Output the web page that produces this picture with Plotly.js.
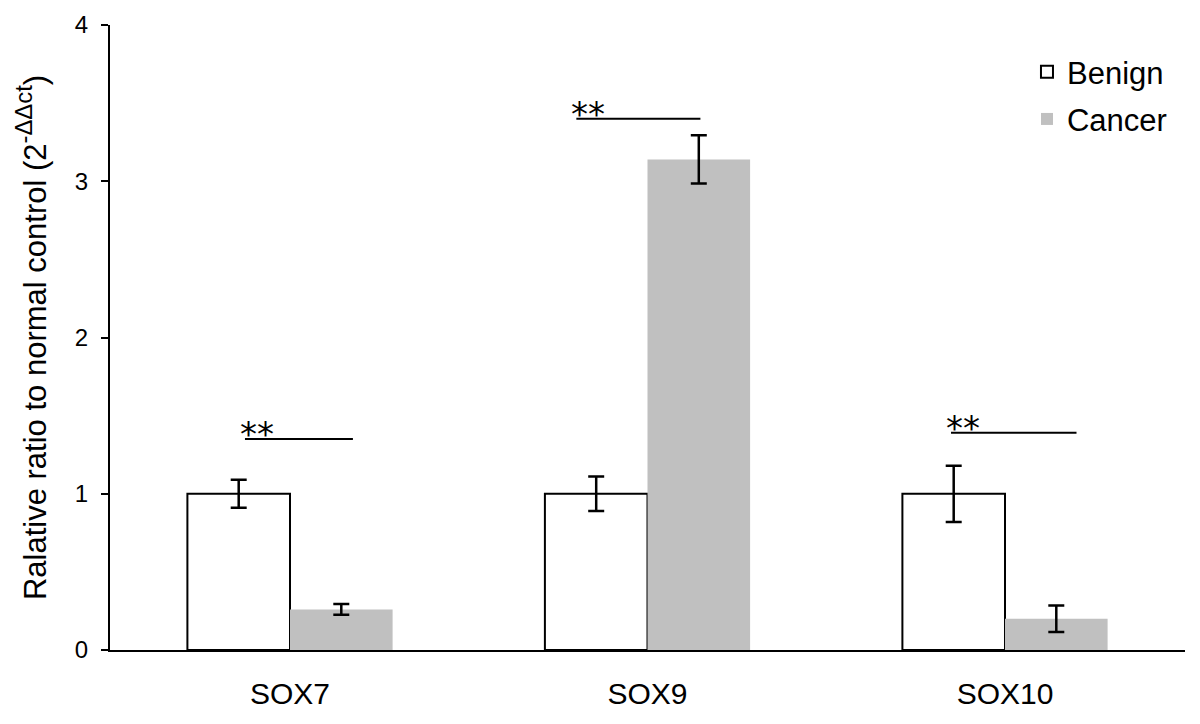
<!DOCTYPE html>
<html>
<head>
<meta charset="utf-8">
<script src="https://cdn.plot.ly/plotly-3.0.1.min.js"></script>
<style>html,body{margin:0;padding:0;background:#fff;}#chart{width:1200px;height:724px;}</style>
</head>
<body>
<div id="chart"></div>
<script>
const categories = ["SOX7", "SOX9", "SOX10"];
const benignValues = [1.0, 1.0, 1.0];
const benignErrors = [0.09, 0.11, 0.18];
const cancerValues = [0.26, 3.14, 0.20];
const cancerErrors = [0.035, 0.155, 0.085];
const sigLevels = [1.35, 3.40, 1.39];
const sigLabels = ["**", "**", "**"];
const yTicks = [0, 1, 2, 3, 4];

const sigX0 = [-0.126, -0.199, -0.151];
const sigX1 = [0.176, 0.148, 0.200];

const FONT = "Liberation Sans, Arial, DejaVu Sans, sans-serif";

const traces = [
  {
    type: "bar", name: "Benign", x: [0, 1, 2], y: benignValues,
    offset: -0.287, width: 0.287, legendgroup: "a",
    marker: {color: "#ffffff", line: {color: "#000000", width: 2}},
    error_y: {type: "data", array: benignErrors, visible: true, color: "#000000", thickness: 2.5, width: 8}
  },
  {
    type: "bar", name: "Cancer", x: [0, 1, 2], y: cancerValues,
    offset: 0, width: 0.287, legendgroup: "b",
    marker: {color: "#c0c0c0", line: {color: "#c0c0c0", width: 0}},
    error_y: {type: "data", array: cancerErrors, visible: true, color: "#000000", thickness: 2.5, width: 8}
  }
];

const shapes = sigLevels.map((lv, i) => ({
  type: "line", xref: "x", yref: "y",
  x0: i + sigX0[i], x1: i + sigX1[i], y0: lv, y1: lv,
  line: {color: "#000000", width: 2}
}));
const annotations = sigLevels.map((lv, i) => ({
  xref: "x", yref: "y", x: i + sigX0[i] - 0.02, y: lv,
  text: sigLabels[i], showarrow: false, xanchor: "left", yanchor: "bottom",
  yshift: -17,
  font: {family: "DejaVu Sans, sans-serif", size: 34, color: "#000000"}
}));

const yTitle = "<span style=\"font-size:31px\">Ralative ratio to normal control (2</span>" +
  "<sup>-ΔΔct</sup><span style=\"font-size:31px\">)</span>";

const layout = {
  width: 1200, height: 724,
  margin: {l: 110, r: 15, t: 25, b: 74},
  paper_bgcolor: "#ffffff", plot_bgcolor: "#ffffff",
  showlegend: true,
  legend: {
    x: 0.853, y: 0.968, xanchor: "left", yanchor: "top",
    font: {family: FONT, size: 31, color: "#000000"},
    itemwidth: 30, traceorder: "grouped", tracegroupgap: 4, bgcolor: "rgba(0,0,0,0)"
  },
  xaxis: {
    range: [-0.5035, 2.5035], tickmode: "array", tickvals: [0, 1, 2], ticktext: categories,
    showline: true, linecolor: "#000000", linewidth: 2, ticks: "", showgrid: false, zeroline: false,
    tickfont: {family: FONT, size: 30, color: "#000000"},
    ticklabelstandoff: 16
  },
  yaxis: {
    range: [0, 4], tickmode: "array", tickvals: yTicks,
    showline: true, linecolor: "#000000", linewidth: 2, ticks: "outside", ticklen: 7, tickwidth: 2, tickcolor: "#000000",
    showgrid: false, zeroline: false,
    tickfont: {family: FONT, size: 24, color: "#000000"},
    ticklabelstandoff: 8,
    title: {text: yTitle, standoff: 18,
      font: {family: FONT, size: 34, color: "#000000"}}
  },
  shapes: shapes,
  annotations: annotations
};

Plotly.newPlot("chart", traces, layout, {displayModeBar: false, staticPlot: true});
</script>
</body>
</html>
